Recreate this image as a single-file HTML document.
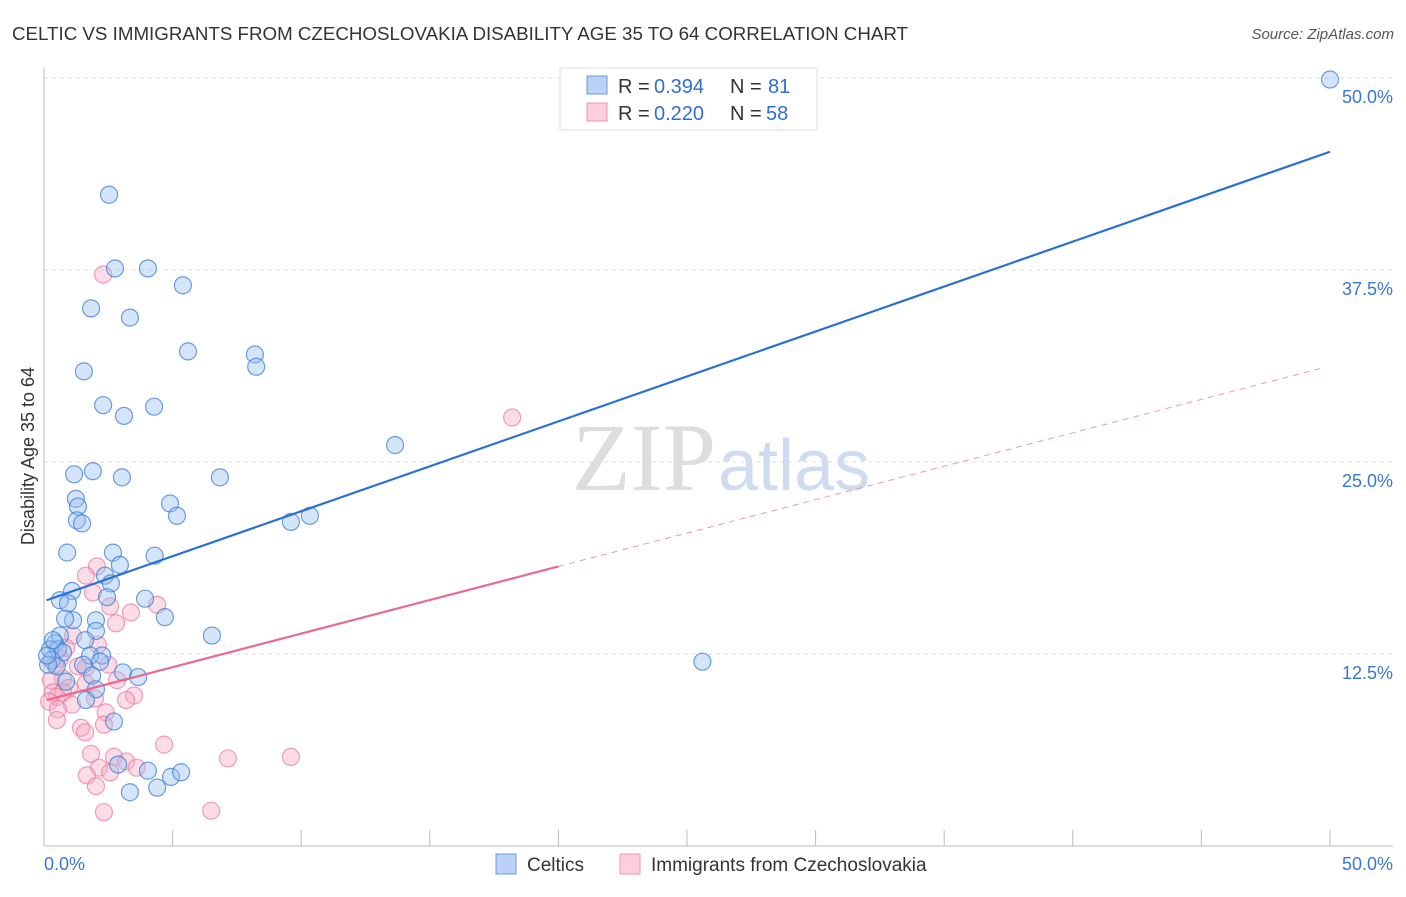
<!DOCTYPE html>
<html><head><meta charset="utf-8"><style>
body{margin:0;background:#fff;font-family:"Liberation Sans",sans-serif;}
svg text{font-family:"Liberation Sans",sans-serif;}
</style></head><body>
<svg id="chart" width="1406" height="892" xmlns="http://www.w3.org/2000/svg">
<text x="12" y="40" font-size="18" fill="#333" textLength="896" lengthAdjust="spacingAndGlyphs">CELTIC VS IMMIGRANTS FROM CZECHOSLOVAKIA DISABILITY AGE 35 TO 64 CORRELATION CHART</text>
<text x="1394" y="39" font-size="15" fill="#555" text-anchor="end" font-style="italic">Source: ZipAtlas.com</text>
<text x="716" y="490" font-size="96" fill="#ddd" text-anchor="end" style="font-family:'Liberation Serif',serif">ZIP</text>
<text x="718" y="490" font-size="72" fill="#cfdcf0">atlas</text>
<g id="grid"></g>
<g id="pts"></g>
<g id="lines"></g>
<text transform="translate(34,456) rotate(-90)" font-size="18" fill="#333" text-anchor="middle">Disability Age 35 to 64</text>
<g>
<rect x="560" y="68" width="257" height="62" fill="#fff" stroke="#ddd"/>
<rect x="587" y="76" width="20" height="18" fill="#b9d2f5" stroke="#6a9be0"/>
<text x="618" y="93" font-size="20" fill="#333">R =</text>
<text x="654" y="93" font-size="20" fill="#2f6fd0">0.394</text>
<text x="730" y="93" font-size="20" fill="#333">N =</text>
<text x="768" y="93" font-size="20" fill="#2f6fd0">81</text>
<rect x="587" y="103" width="20" height="18" fill="#fbd0dc" stroke="#ee93ad"/>
<text x="618" y="120" font-size="20" fill="#333">R =</text>
<text x="654" y="120" font-size="20" fill="#2f6fd0">0.220</text>
<text x="730" y="120" font-size="20" fill="#333">N =</text>
<text x="766" y="120" font-size="20" fill="#2f6fd0">58</text>
</g>
<g>
<rect x="496" y="854" width="20" height="20" fill="#b9d2f5" stroke="#6a9be0"/>
<text x="527" y="871" font-size="19" fill="#333">Celtics</text>
<rect x="620" y="854" width="20" height="20" fill="#fbd0dc" stroke="#ee93ad"/>
<text x="651" y="871" font-size="19" fill="#333">Immigrants from Czechoslovakia</text>
</g>
</svg>
<script>
const yTicks=[12.5,25,37.5,50];
const yTickLabels=["12.5%","25.0%","37.5%","50.0%"];
const xTickLabels=["0.0%","50.0%"];
const celticsX=[2.53,2.76,4.04,5.4,1.83,3.34,5.6,8.2,8.25,1.55,2.3,4.28,3.11,13.65,1.17,1.9,3.03,6.84,1.24,1.32,4.9,5.17,1.28,1.48,9.6,10.34,0.9,2.68,4.3,2.95,2.37,2.6,1.09,3.93,0.62,0.93,2.45,1.13,0.82,2.02,4.7,2.02,0.62,1.6,0.43,6.53,0.23,0.54,0.74,2.26,1.79,0.3,2.18,1.52,0.5,25.6,3.07,1.87,3.66,2.02,1.63,2.72,2.88,4.04,4.94,5.33,4.4,3.34,50,0.16,0.12,0.35,0.86];
const celticsY=[42.4,37.6,37.6,36.5,35.0,34.4,32.2,32.0,31.2,30.9,28.7,28.6,28.0,26.1,24.2,24.4,24.0,24.0,22.6,22.1,22.3,21.5,21.2,21.0,21.1,21.5,19.1,19.1,18.9,18.3,17.6,17.1,16.6,16.1,16.0,15.8,16.2,14.7,14.8,14.7,14.9,14.0,13.7,13.4,13.2,13.7,12.8,12.8,12.6,12.4,12.4,12.1,12.0,11.8,11.7,12.0,11.3,11.1,11.0,10.2,9.5,8.1,5.3,4.9,4.5,4.8,3.8,3.5,49.9,11.8,12.4,13.4,10.7];
const czechX=[2.3,18.2,2.06,1.63,1.9,2.57,3.38,4.4,2.8,1.13,2.1,0.62,1.32,1.63,2.5,0.74,0.27,0.97,1.63,2.84,0.35,0.74,0.5,1.98,3.5,3.19,0.2,1.09,0.54,2.4,0.5,1.44,1.6,2.33,4.67,1.83,2.72,3.19,7.15,9.6,2.14,3.6,1.67,2.57,2.02,2.33,6.5,0.43,0.86];
const czechY=[37.2,27.9,18.2,17.6,16.5,15.6,15.2,15.7,14.5,13.7,13.1,12.2,11.7,11.6,11.8,10.9,10.8,10.3,10.6,10.8,10.0,10.0,9.7,9.6,9.8,9.5,9.4,9.2,8.9,8.7,8.2,7.7,7.4,7.9,6.6,6.0,5.8,5.5,5.7,5.8,5.1,5.1,4.6,4.8,3.9,2.2,2.3,11.8,12.9];
const celticsTrend=[16.0,45.2];
const czechTrend=[9.5,0.435];
const NS="http://www.w3.org/2000/svg";
const X=v=>44+v*25.72, Y=v=>846-v*15.36;
function mk(tag,attrs,parent){const e=document.createElementNS(NS,tag);for(const k in attrs)e.setAttribute(k,attrs[k]);parent.appendChild(e);return e;}
const grid=document.getElementById('grid'),pts=document.getElementById('pts'),lines=document.getElementById('lines');
yTicks.forEach((t,i)=>{
 const l=mk('line',{x1:44,x2:1393,y1:Y(t),y2:Y(t),stroke:'#ddd','stroke-dasharray':'4,4'},grid);
 
 
 const tx=mk('text',{x:1393,y:Y(t)+25,'font-size':18,fill:'#3a78d0','text-anchor':'end'},grid);
 tx.textContent=yTickLabels[i];
 
 
});
const ax=mk('line',{x1:44,x2:1393,y1:846,y2:846,stroke:'#bbb'},grid);


const ay=mk('line',{x1:44,x2:44,y1:68,y2:846,stroke:'#bbb'},grid);


for(let i=0;i<=10;i++){const t=mk('line',{x1:X(i*5),x2:X(i*5),y1:830,y2:846,stroke:'#bbb'},grid);
 
 }
[[0,'start',44],[50,'end',1393]].forEach((d,i)=>{const t=mk('text',{x:d[2],y:870,'font-size':18,fill:'#3a78d0','text-anchor':d[1]},grid);t.textContent=xTickLabels[i];
 
 });
czechX.forEach((x,i)=>{const c=mk('circle',{cx:X(x),cy:Y(czechY[i]),r:8.5,fill:'rgba(248,170,195,0.4)',stroke:'rgba(235,120,155,0.7)','stroke-width':1.2},pts);
 
 });
celticsX.forEach((x,i)=>{const c=mk('circle',{cx:X(x),cy:Y(celticsY[i]),r:8.5,fill:'rgba(150,190,240,0.4)',stroke:'rgba(60,125,215,0.75)','stroke-width':1.2},pts);
 
 });
const bl=mk('line',{x1:X(0.1),y1:Y(celticsTrend[0]),x2:X(50),y2:Y(celticsTrend[1]),stroke:'#2a6fd6','stroke-width':2.2},lines);


const pl=mk('line',{x1:X(0.1),y1:Y(czechTrend[0]),x2:X(20),y2:Y(czechTrend[0]+czechTrend[1]*20),stroke:'#e86a93','stroke-width':2.2},lines);


const pd=mk('line',{x1:X(20),y1:Y(czechTrend[0]+czechTrend[1]*20),x2:X(49.8),y2:Y(czechTrend[0]+czechTrend[1]*49.8),stroke:'#e89ab3','stroke-width':1,'stroke-dasharray':'6,5'},lines);


</script>
</body></html>
